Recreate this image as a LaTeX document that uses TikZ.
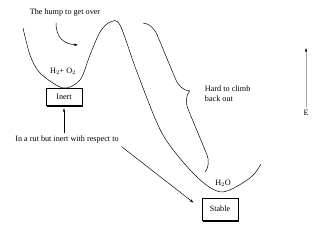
\documentclass[tikz,border=0pt]{standalone}
\usepackage{fontspec}
\setmainfont{Liberation Serif}
\usetikzlibrary{arrows.meta, positioning, shadows, decorations.pathreplacing}
\tikzstyle{box} = [rectangle, draw=black, fill=white, minimum width=1.55cm, minimum height=0.73cm, drop shadow={shadow xshift=1.8pt, shadow yshift=-1.8pt, fill=black, opacity=1}]
\tikzstyle{arrow} = [->, >={Stealth[length=5pt, width=3pt]}]

\begin{document}
\begin{tikzpicture}[x=0.043cm, y=-0.043cm, line width=0.6pt, every node/.style={font=\normalsize}]
  \useasboundingbox (0,0) rectangle (320,238);

  % energy curve
  \draw plot[smooth, tension=0.5] coordinates {(23,28) (30,55) (40,73) (63,88) (80,80) (90,55) (100,32) (110,22) (120,25) (137,72) (163,135) (197,177) (222,192) (250,178) (261,164)};

  \node (hump) at (65,13) {The hump to get over};
  \coordinate (hstart) at (56,23);
  \coordinate (hend) at (78,45);
  \draw[arrow] (hstart) .. controls (56,38) and (64,44) .. (hend);

  \node (h2o2) at (63,71) {H$_2$+ O$_2$};
  \node[box] (inert) at (64,97) {Inert};
  \node (rut) at (67,140) {In a rut but inert with respect to};
  \draw[arrow, shorten >=3pt] (rut.north -| inert) -- (inert.south);

  \node[box, minimum height=0.95cm] (stable) at (220,209) {Stable};
  \node (h2o) at (223,183) {H$_2$O};
  \draw[arrow, shorten >=0.45cm] (rut.south east) -- (stable.west);

  % brace
  \coordinate (btop) at (143,23);
  \coordinate (bbot) at (205,172);
  \draw[decorate, decoration={brace, amplitude=0.73cm}] (btop) -- (bbot);
  \node[anchor=west, align=left] (hard) at (202,94) {Hard to climb\\back out};

  % energy axis
  \node (e) at (306,113) {E};
  \coordinate (etop) at (306,48);
  \draw[arrow, draw=black!35, >={Stealth[length=5pt, width=3pt, color=black]}] (e.north) -- (etop);
\end{tikzpicture}
\end{document}
